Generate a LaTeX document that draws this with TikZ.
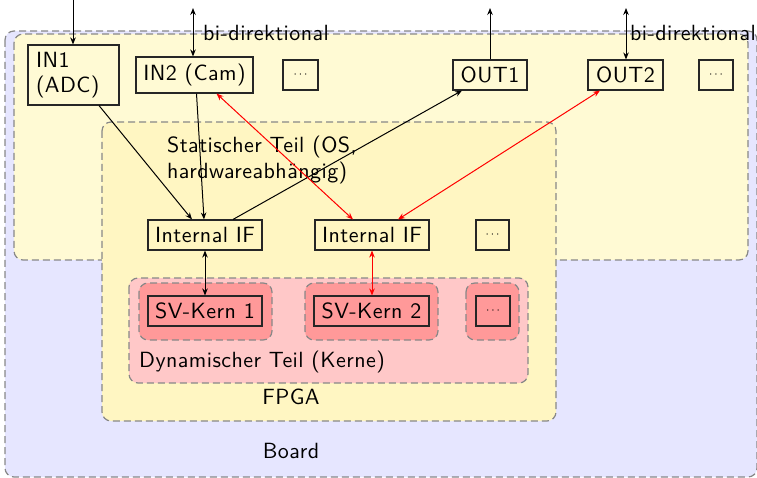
\documentclass[tikz,border=0pt]{standalone}
\usepackage{fontspec}
\setsansfont{lmsans10-regular.otf}[LetterSpace=2.0]
\usetikzlibrary{arrows.meta}
\definecolor{boardblue}{HTML}{E6E6FF}
\definecolor{periyellow}{HTML}{FFFAD4}
\definecolor{fpgayellow}{HTML}{FFF6C2}
\definecolor{dynpink}{HTML}{FFC8C8}
\definecolor{kernred}{HTML}{FF9999}
\definecolor{edgegray}{HTML}{888888}
\tikzset{
  txt/.style={font=\sffamily\fontsize{22}{25.5}\selectfont, inner sep=0pt},
  area/.style={draw=edgegray, line width=1.2pt, dash pattern=on 7pt off 4pt, rounded corners=9pt},
  box/.style={txt, draw=black!85, line width=1.1pt, minimum height=30pt},
  dotsbox/.style={box, font=\fontsize{12}{14}\selectfont},
  conn/.style={line width=1pt, -{Stealth[length=7pt,width=5.5pt]}},
  biconn/.style={line width=1pt, {Stealth[length=7pt,width=5.5pt]}-{Stealth[length=7pt,width=5.5pt]}},
}
\begin{document}
\begin{tikzpicture}[x=1pt, y=-1pt]
\useasboundingbox (0,0) rectangle (757,478);

% nested regions: board, peripherals, FPGA, dynamic part, kernels
\draw[area, fill=boardblue] (5,31) rectangle (757,477);
\draw[area, fill=periyellow] (14,34) rectangle (748,260);
\draw[area, fill=fpgayellow] (102,122) rectangle (556,421);
\draw[area, fill=dynpink] (129,278) rectangle (528,383);
\draw[area, fill=kernred] (139,283) rectangle (272,340);
\draw[area, fill=kernred] (305,283) rectangle (438,340);
\draw[area, fill=kernred] (466,283) rectangle (519,340);

% region labels
\node[txt, anchor=west, align=left] (static) at (167,160) {Statischer Teil (OS,\\hardwareabh\"angig)};
\node[txt, anchor=west] (dynlabel) at (139,362) {Dynamischer Teil (Kerne)};
\node[txt] (fpgalabel) at (291,397) {FPGA};
\node[txt] (boardlabel) at (291,451) {Board};

% interfaces of the board
\node[box, minimum width=91pt, minimum height=60pt, align=left, text width=75pt] (in1) at (73.5,75) {IN1\\(ADC)};
\node[box, minimum width=117pt, minimum height=36pt] (in2) at (194.5,75) {IN2 (Cam)};
\node[dotsbox, minimum width=35pt] (dotsa) at (300.5,75) {$\cdots$};
\node[box, minimum width=74pt] (out1) at (490,75) {OUT1};
\node[box, minimum width=75pt] (out2) at (625.5,75) {OUT2};
\node[dotsbox, minimum width=34pt] (dotsb) at (716,75) {$\cdots$};

% internal interfaces of the static part
\node[box, minimum width=114pt] (if1) at (205,235) {Internal IF};
\node[box, minimum width=114pt] (if2) at (372,235) {Internal IF};
\node[dotsbox, minimum width=33pt] (dotsc) at (492.5,235) {$\cdots$};

% kernels
\node[box, minimum width=114pt] (sv1) at (205,311) {SV-Kern 1};
\node[box, minimum width=115pt] (sv2) at (371.5,311) {SV-Kern 2};
\node[dotsbox, minimum width=34pt] (dotsd) at (493,311) {$\cdots$};

% external ends of the board connectors
\coordinate (in1ext) at (73,0);
\coordinate (in2ext) at (193,8);
\coordinate (out1ext) at (490,8);
\coordinate (out2ext) at (626,8);

\draw[conn] (in1ext) -- (in1ext |- in1.north);
\draw[biconn] (in2ext) -- (in2ext |- in2.north);
\draw[conn] (out1.north) -- (out1ext);
\draw[biconn] (out2ext) -- (out2ext |- out2.north);

\node[txt, anchor=west] (bia) at (203,33) {bi-direktional};
\node[txt, anchor=east] (bib) at (756,33) {bi-direktional};

% connections inside the board
\draw[conn] ([xshift=25.5pt]in1.south) -- ([xshift=-13pt]if1.north);
\draw[conn] ([xshift=2pt]in2.south) -- ([xshift=-1pt]if1.north);
\draw[conn] ([xshift=28pt]if1.north) -- ([xshift=-28pt]out1.south);
\draw[biconn, red] ([xshift=22pt]in2.south) -- ([xshift=-19pt]if2.north);
\draw[biconn, red] ([xshift=-25.5pt]out2.south) -- ([xshift=26pt]if2.north);
\draw[biconn] (if1.south) -- (sv1.north);
\draw[biconn, red] (if2.south) -- (if2.south |- sv2.north);
\end{tikzpicture}
\end{document}
